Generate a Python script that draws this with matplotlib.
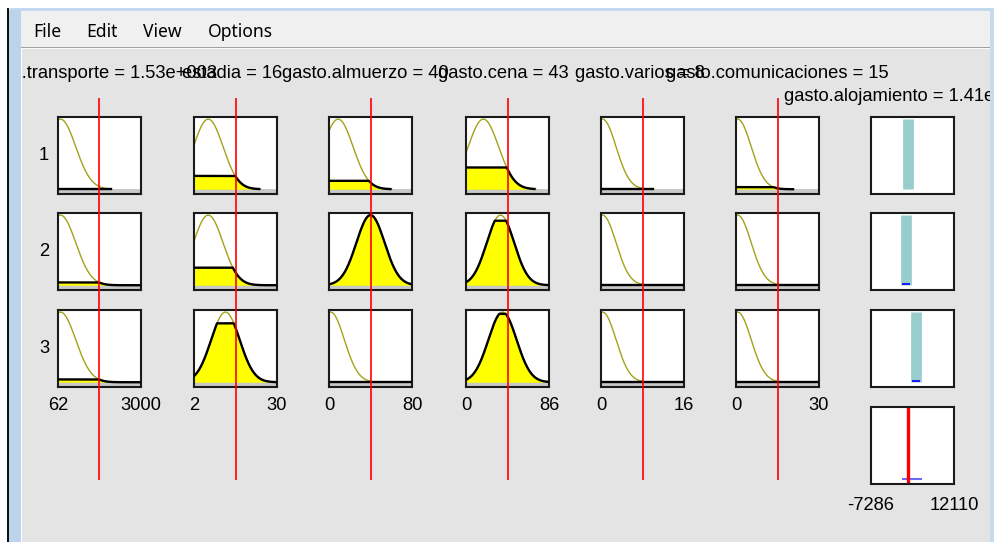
import numpy as np
import matplotlib
matplotlib.use("Agg")
import matplotlib.pyplot as plt
from matplotlib import transforms
from matplotlib.patches import Rectangle

# ---------------- data ----------------
menu_items = ["File", "Edit", "View", "Options"]

input_names = ["gasto.transporte", "estadia", "gasto.almuerzo",
               "gasto.cena", "gasto.varios", "gasto.comunicaciones"]
input_values = [1530, 16, 40, 43, 8, 15]
input_value_text = ["1.53e+003", "16", "40", "43", "8", "15"]
input_lo = [62, 2, 0, 0, 0, 0]
input_hi = [3000, 30, 80, 86, 16, 30]
range_lo_text = ["62", "2", "0", "0", "0", "0"]
range_hi_text = ["3000", "30", "80", "86", "16", "30"]

# gaussian membership functions, one row per input, one column per rule
mf_centers = [
    [150, 150, 150],
    [6.8, 6.8, 12.6],
    [8.8, 40.0, 1.6],
    [18.0, 35.7, 37.8],
    [0.3, 0.3, 0.3],
    [0.6, 0.6, 0.6],
]
mf_sigmas = [
    [540, 540, 540],
    [5.0, 5.0, 4.8],
    [14.4, 13.6, 13.2],
    [15.8, 14.2, 14.6],
    [2.6, 2.6, 2.6],
    [4.9, 4.9, 4.9],
]
# degree of membership of each input in each rule (clip level)
mf_clip = [
    [0.0, 0.04, 0.04],
    [0.19, 0.25, 0.84],
    [0.12, 1.0, 0.0],
    [0.31, 0.92, 0.975],
    [0.0, 0.0, 0.0],
    [0.03, 0.0, 0.0],
]
# rule 1 curves are only drawn up to these values
rule1_domain_end = [1972, 24.4, 60.4, 72.2, 10.2, 21.0]

rule_labels = ["1", "2", "3"]

output_name = "gasto.alojamiento"
output_value = 1410
output_value_text = "1.41e+003"
output_lo, output_hi = -7286, 12110
output_lo_text, output_hi_text = "-7286", "12110"
rule_outputs = [1250, 780, 3190]
rule_weights = [0.005, 0.025, 0.025]
agg_span = (-50, 4630)

# ---------------- layout (pixels) ----------------
W, H = 994, 542
col_left = [58, 194, 329, 466, 601, 736, 871]
box_w, box_h = 83, 77
row_top = [117, 213, 310]
agg_top = 407
YLIM = (-0.068, 1.03)
label_x = [-23, 182, 282, 438, 575, 666]
label_base = 78
out_label_x, out_label_base = 784, 101
FS = 13.2
TXT_FONT = ["Liberation Sans", "DejaVu Sans"]

fig = plt.figure(figsize=(W / 100, H / 100), dpi=100)
bg = fig.add_axes([0, 0, 1, 1], zorder=0)
bg.set_xlim(0, W)
bg.set_ylim(H, 0)
bg.axis("off")


def px_axes(left, top, w, h, z=2):
    return fig.add_axes([left / W, 1 - (top + h) / H, w / W, h / H], zorder=z)


# window chrome
bg.add_patch(Rectangle((0, 0), W, H, color="white", lw=0))
bg.add_patch(Rectangle((10, 8), 984, 3, color="#c4d8ef", lw=0))
bg.add_patch(Rectangle((21, 11), 969, 36, color="#f0f0f0", lw=0))
bg.add_patch(Rectangle((21, 47), 969, 1, color="#a0a0a0", lw=0))
bg.add_patch(Rectangle((21, 48), 969, 1, color="#fafafa", lw=0))
bg.add_patch(Rectangle((22, 49), 968, H - 49, color="#e4e4e4", lw=0))
bg.add_patch(Rectangle((7, 8), 2, H - 8, color="#101010", lw=0))
bg.add_patch(Rectangle((9, 10), 12, H - 10, color="#bcd3eb", lw=0))
bg.add_patch(Rectangle((990, 8), 4, H - 8, color="#c8daee", lw=0))

# clip box of the panel in display pixels (origin bottom-left)
panel_clip = transforms.Bbox.from_extents(22, 0, 990, H - 49)

menu_x = [33, 86, 143, 208]
for mx, item in zip(menu_x, menu_items):
    bg.text(mx, 37, item, fontsize=12.6, family=["Noto Sans", "DejaVu Sans"],
            ha="left", va="baseline", color="#000000")

# variable labels (clipped by the panel)
for j in range(6):
    t = bg.text(label_x[j], label_base, f"{input_names[j]} = {input_value_text[j]}",
                fontsize=FS, family=TXT_FONT, ha="left", va="baseline", color="#000000",
                clip_on=True)
    t.set_clip_box(panel_clip)
t = bg.text(out_label_x, out_label_base, f"{output_name} = {output_value_text}",
            fontsize=FS, family=TXT_FONT, ha="left", va="baseline", color="#000000",
            clip_on=True)
t.set_clip_box(panel_clip)

# rule numbers
for i, rl in enumerate(rule_labels):
    bg.text(44, row_top[i] + box_h / 2, rl, fontsize=FS, family=TXT_FONT,
            ha="center", va="center", color="#000000")


def style_box(ax):
    ax.set_xticks([])
    ax.set_yticks([])
    for s in ax.spines.values():
        s.set_linewidth(1.5)
        s.set_color("#1a1a1a")


grid = [[None] * 7 for _ in range(3)]
for j in range(6):
    lo, hi = input_lo[j], input_hi[j]
    for i in range(3):
        ax = px_axes(col_left[j], row_top[i], box_w, box_h)
        grid[i][j] = ax
        ax.set_facecolor("white")
        ax.axhspan(YLIM[0], 0, color="#c8c8c8", lw=0, zorder=0.5)
        end = rule1_domain_end[j] if i == 0 else hi
        x = np.linspace(lo, end, 300)
        mf = np.exp(-((x - mf_centers[j][i]) ** 2) / (2 * mf_sigmas[j][i] ** 2))
        clipped = np.minimum(mf, mf_clip[j][i])
        ax.fill_between(x, 0, clipped, color="#ffff00", lw=0, zorder=1)
        ax.plot(x, mf, color="#a2a21a", lw=1.0, zorder=2)
        ax.plot(x, clipped, color="black", lw=1.7, zorder=3,
                solid_capstyle="butt")
        ax.set_xlim(lo, hi)
        ax.set_ylim(*YLIM)
        style_box(ax)
    # range labels under the column
    tr = transforms.blended_transform_factory(grid[2][j].transData, bg.transData)
    bg.text(lo, 410, range_lo_text[j], transform=tr, fontsize=FS, family=TXT_FONT,
            ha="center", va="baseline")
    bg.text(hi, 410, range_hi_text[j], transform=tr, fontsize=FS, family=TXT_FONT,
            ha="center", va="baseline")

# output column: rule consequents
for i in range(3):
    ax = px_axes(col_left[6], row_top[i], box_w, box_h)
    grid[i][6] = ax
    ax.set_facecolor("white")
    ax.vlines(rule_outputs[i], 0, 1, color="#99cccc", lw=7.7)
    ax.vlines(rule_outputs[i], 0, rule_weights[i], color="#1a1aff", lw=5.8)
    ax.set_xlim(output_lo, output_hi)
    ax.set_ylim(*YLIM)
    style_box(ax)

# aggregated output
agg = px_axes(col_left[6], agg_top, box_w, box_h)
agg.set_facecolor("white")
agg.hlines(0, agg_span[0], agg_span[1], color="#6b6bff", lw=1.5)
agg.axvline(output_value, color="#ff0000", lw=2.4)
agg.set_xlim(output_lo, output_hi)
agg.set_ylim(*YLIM)
style_box(agg)
tr = transforms.blended_transform_factory(agg.transData, bg.transData)
bg.text(output_lo, 510, output_lo_text, transform=tr, fontsize=FS, family=TXT_FONT,
        ha="center", va="baseline")
bg.text(output_hi, 510, output_hi_text, transform=tr, fontsize=FS, family=TXT_FONT,
        ha="center", va="baseline")

# red input lines across all rule rows
overlay = fig.add_axes([0, 0, 1, 1], zorder=10)
overlay.set_xlim(0, W)
overlay.set_ylim(H, 0)
overlay.axis("off")
for j in range(6):
    tr = transforms.blended_transform_factory(grid[0][j].transData, overlay.transData)
    overlay.plot([input_values[j], input_values[j]], [98, 480], transform=tr,
                 color="#ff0000", lw=1.2, solid_capstyle="butt")

fig.savefig("out.png", dpi=100)
